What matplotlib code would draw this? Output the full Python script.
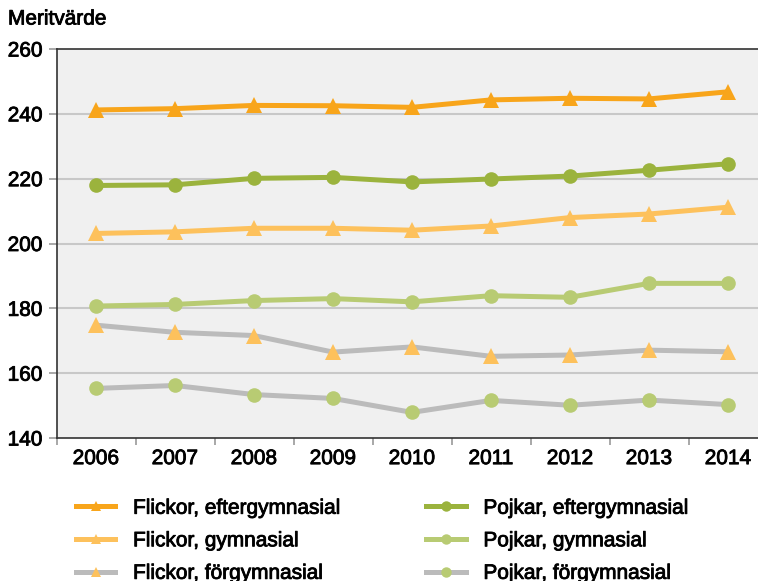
import matplotlib
matplotlib.use("Agg")
import matplotlib.pyplot as plt
import matplotlib.patheffects as pe
from matplotlib.lines import Line2D
from matplotlib.ticker import FixedLocator, NullFormatter

plt.rcParams['font.family'] = ['Liberation Sans', 'DejaVu Sans']

years = ['2006', '2007', '2008', '2009', '2010', '2011', '2012', '2013', '2014']
flickor_efter = [241.2, 241.6, 242.6, 242.5, 242.0, 244.3, 244.8, 244.6, 246.8]
flickor_gymn = [203.1, 203.6, 204.7, 204.7, 204.1, 205.4, 208.0, 209.1, 211.2]
flickor_forgymn = [174.8, 172.6, 171.6, 166.5, 168.1, 165.2, 165.6, 167.1, 166.6]
pojkar_efter = [217.9, 218.1, 220.1, 220.4, 219.0, 219.9, 220.8, 222.6, 224.6]
pojkar_gymn = [180.7, 181.2, 182.4, 183.0, 182.0, 183.9, 183.4, 187.7, 187.7]
pojkar_forgymn = [155.3, 156.2, 153.4, 152.2, 147.9, 151.6, 150.1, 151.7, 150.3]
yticks = [140, 160, 180, 200, 220, 240, 260]
ylabel = 'Meritvärde'

ORANGE = '#F8A51B'
LORANGE = '#FDC15C'
GREEN = '#9BB33D'
LGREEN = '#B8CB73'
GREY = '#BBBBBB'

series = [
    ('Flickor, eftergymnasial', flickor_efter, ORANGE, ORANGE, '^'),
    ('Flickor, gymnasial', flickor_gymn, LORANGE, LORANGE, '^'),
    ('Flickor, förgymnasial', flickor_forgymn, GREY, LORANGE, '^'),
    ('Pojkar, eftergymnasial', pojkar_efter, GREEN, GREEN, 'o'),
    ('Pojkar, gymnasial', pojkar_gymn, LGREEN, LGREEN, 'o'),
    ('Pojkar, förgymnasial', pojkar_forgymn, GREY, LGREEN, 'o'),
]

thick = [pe.withStroke(linewidth=0.6, foreground='black')]

fig = plt.figure(figsize=(7.58, 5.81), dpi=100)
ax = fig.add_axes([56.5 / 758, 143 / 581, 711 / 758, 389 / 581])
ax.set_facecolor('#F0F0F0')

x = list(range(len(years)))
for name, vals, lc, mc, mk in series:
    ax.plot(x, vals, color=lc, lw=3.6, marker=mk,
            markersize=10.5 if mk == 'o' else 11.5,
            markerfacecolor=mc, markeredgecolor=mc, markeredgewidth=0,
            zorder=3, solid_capstyle='butt')

ax.set_xlim(-0.5, len(years) - 0.5)
ax.set_ylim(140, 260)
ax.set_yticks(yticks)
ax.set_yticklabels([str(v) for v in yticks], fontsize=15)
ax.set_xticks(x)
ax.set_xticklabels(years, fontsize=15)
ax.xaxis.set_minor_locator(FixedLocator([i - 0.5 for i in range(len(years) + 1)]))
ax.xaxis.set_minor_formatter(NullFormatter())
ax.tick_params(axis='x', which='major', length=0, pad=8)
ax.tick_params(axis='x', which='minor', length=5, width=1.2, color='#999999', direction='out')
ax.tick_params(axis='y', length=6, width=1.2, color='#999999', pad=4)
for lab in ax.get_xticklabels() + ax.get_yticklabels():
    lab.set_path_effects(thick)

for v in yticks[1:-1]:
    ax.axhline(v, color='#C8C8C8', lw=1.5, zorder=1)

for s in ['left', 'bottom', 'top']:
    ax.spines[s].set_color('#333333')
    ax.spines[s].set_linewidth(1.2)
ax.spines['right'].set_visible(False)

fig.text(8 / 758, 1 - 19 / 581, ylabel, fontsize=15, va='center', ha='left',
         path_effects=thick)

handles = []
for name, vals, lc, mc, mk in series:
    handles.append(Line2D([], [], color=lc, lw=3.6, marker=mk, markersize=7.5,
                          markerfacecolor=mc, markeredgewidth=0))
leg = fig.legend(handles, [s[0] for s in series], ncol=2, loc='upper left',
                 bbox_to_anchor=(57 / 758, 1 - 480 / 581), frameon=False,
                 fontsize=15, handlelength=1.9, handletextpad=0.85,
                 columnspacing=4.1, labelspacing=0.65)
for t in leg.get_texts():
    t.set_path_effects(thick)

fig.savefig('out.png', dpi=100)
